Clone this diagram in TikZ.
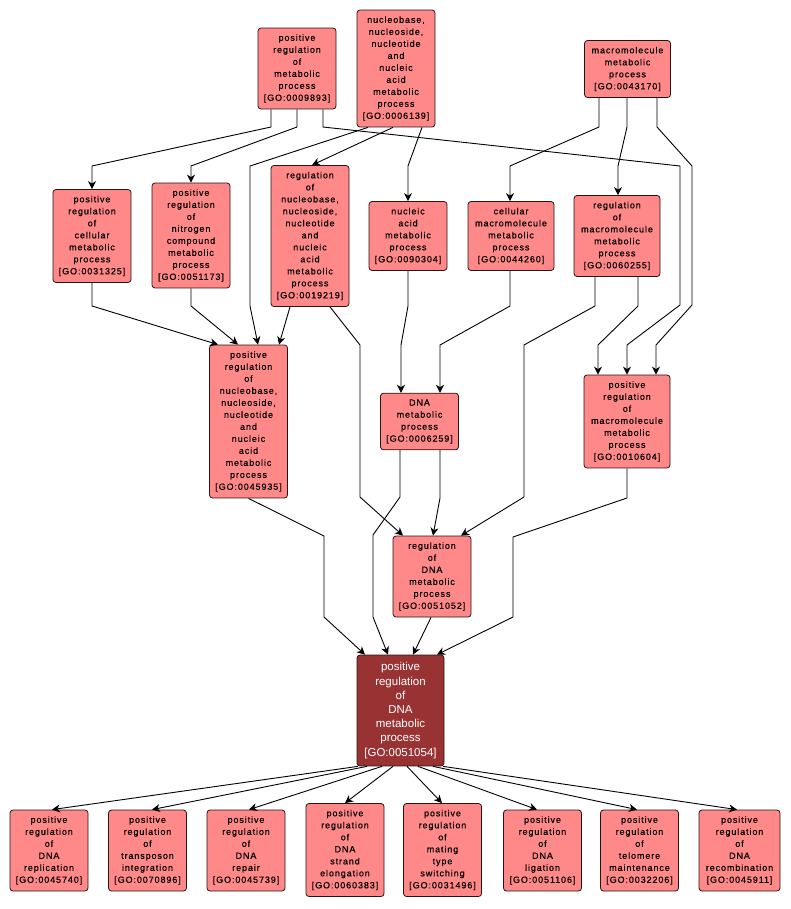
\documentclass[tikz,border=0pt]{standalone}
\usepackage{fontspec}
\usetikzlibrary{arrows.meta}
\newfontfamily\gotermfont[LetterSpace=10,FakeBold=0.4]{Liberation Sans}
\newfontfamily\gokeyfont{Liberation Sans}
\definecolor{goterm}{RGB}{255,136,136}
\definecolor{gokey}{RGB}{153,51,51}
\newcommand\goid[1]{{[GO:#1]}}
\begin{document}
\begin{tikzpicture}[x=1pt,y=1pt,yscale=-1,xscale=1,
    goterm/.style={draw={rgb,255:red,40;green,20;blue,20},line width=0.8pt,fill=goterm,rounded corners=3pt,
      align=center,inner xsep=4pt,inner ysep=6.3pt,minimum width=78pt,
      font=\gotermfont\fontsize{9}{12}\selectfont},
    gokey/.style={goterm,fill=gokey,text=white,inner ysep=7.5pt,minimum width=87pt,
      font=\gokeyfont\fontsize{11.5}{14.2}\selectfont},
    isa/.style={draw=black,line width=0.9pt,-{Stealth[length=8pt,width=8pt,inset=2.5pt]}}]
  %set diagram to 791 x 909
  \path (0,0) rectangle (791,909);

  % Text Node - top row
  \draw (297,68.5) node [goterm] (go9893) {positive\\regulation\\of\\metabolic\\process\\\goid{0009893}};
  \draw (396,68.5) node [goterm] (go6139) {nucleobase,\\nucleoside,\\nucleotide\\and\\nucleic\\acid\\metabolic\\process\\\goid{0006139}};
  \draw (627.5,69) node [goterm,minimum width=86pt] (go43170) {macromolecule\\metabolic\\process\\\goid{0043170}};

  % Text Node - second row
  \draw (92,236) node [goterm] (go31325) {positive\\regulation\\of\\cellular\\metabolic\\process\\\goid{0031325}};
  \draw (191,235.5) node [goterm] (go51173) {positive\\regulation\\of\\nitrogen\\compound\\metabolic\\process\\\goid{0051173}};
  \draw (310,236) node [goterm] (go19219) {regulation\\of\\nucleobase,\\nucleoside,\\nucleotide\\and\\nucleic\\acid\\metabolic\\process\\\goid{0019219}};
  \draw (408,236) node [goterm] (go90304) {nucleic\\acid\\metabolic\\process\\\goid{0090304}};
  \draw (511,236) node [goterm,minimum width=86pt] (go44260) {cellular\\macromolecule\\metabolic\\process\\\goid{0044260}};
  \draw (617,236) node [goterm,minimum width=86pt] (go60255) {regulation\\of\\macromolecule\\metabolic\\process\\\goid{0060255}};

  % Text Node - third row
  \draw (248.5,421.5) node [goterm] (go45935) {positive\\regulation\\of\\nucleobase,\\nucleoside,\\nucleotide\\and\\nucleic\\acid\\metabolic\\process\\\goid{0045935}};
  \draw (419.5,421.5) node [goterm] (go6259) {DNA\\metabolic\\process\\\goid{0006259}};
  \draw (627,421.5) node [goterm,minimum width=86pt] (go10604) {positive\\regulation\\of\\macromolecule\\metabolic\\process\\\goid{0010604}};

  % Text Node
  \draw (432,576.5) node [goterm] (go51052) {regulation\\of\\DNA\\metabolic\\process\\\goid{0051052}};
  \draw (400.5,710.5) node [gokey] (go51054) {positive\\regulation\\of\\DNA\\metabolic\\process\\\goid{0051054}};

  % Text Node - bottom row
  \draw (49,850.5) node [goterm] (go45740) {positive\\regulation\\of\\DNA\\replication\\\goid{0045740}};
  \draw (147.5,850.5) node [goterm] (go70896) {positive\\regulation\\of\\transposon\\integration\\\goid{0070896}};
  \draw (246,850.5) node [goterm] (go45739) {positive\\regulation\\of\\DNA\\repair\\\goid{0045739}};
  \draw (345,850) node [goterm] (go60383) {positive\\regulation\\of\\DNA\\strand\\elongation\\\goid{0060383}};
  \draw (442.5,850) node [goterm] (go31496) {positive\\regulation\\of\\mating\\type\\switching\\\goid{0031496}};
  \draw (542.5,850.5) node [goterm] (go51106) {positive\\regulation\\of\\DNA\\ligation\\\goid{0051106}};
  \draw (639.5,850.5) node [goterm] (go32206) {positive\\regulation\\of\\telomere\\maintenance\\\goid{0032206}};
  \draw (739.5,850.5) node [goterm,minimum width=81pt] (go45911) {positive\\regulation\\of\\DNA\\recombination\\\goid{0045911}};

  % is_a edges from the top row
  \draw [isa] (271,0 |- go9893.south) -- (271,127) -- (92,166) -- (go31325.north);
  \draw [isa] (297,0 |- go9893.south) -- (297,127) -- (191,166) -- (go51173.north);
  \draw [isa] (323,0 |- go9893.south) -- (323,127) -- (680,166) -- (680,305) -- (627,345) -- (go10604.north);
  \draw [isa] (599,0 |- go43170.south) -- (599,127) -- (510,166) -- (510,0 |- go44260.north);
  \draw [isa] (627,0 |- go43170.south) -- (627,127) -- (618,166) -- (618,0 |- go60255.north);
  \draw [isa] (657,0 |- go43170.south) -- (657,127) -- (692,166) -- (692,305) -- (656,345) -- (656,0 |- go10604.north);
  \draw [isa] (368,0 |- go6139.south) -- (250,166) -- (250,306) -- (258,0 |- go45935.north);
  \draw [isa] (393,0 |- go6139.south) -- (312,0 |- go19219.north);
  \draw [isa] (422,0 |- go6139.south) -- (408,166) -- (go90304.north);

  % is_a edges from the second row
  \draw [isa] (go31325.south) -- (92,306) -- (218,0 |- go45935.north);
  \draw [isa] (go51173.south) -- (191,306) -- (238,0 |- go45935.north);
  \draw [isa] (290,0 |- go19219.south) -- (279,0 |- go45935.north);
  \draw [isa] (330,0 |- go19219.south) -- (360,345) -- (360,497) -- (403,0 |- go51052.north);
  \draw [isa] (go90304.south) -- (408,306) -- (401,345) -- (401,0 |- go6259.north);
  \draw [isa] (510,0 |- go44260.south) -- (510,306) -- (440,345) -- (440,0 |- go6259.north);
  \draw [isa] (595,0 |- go60255.south) -- (595,306) -- (524,345) -- (524,497) -- (461,0 |- go51052.north);
  \draw [isa] (638,0 |- go60255.south) -- (638,306) -- (598,345) -- (598,0 |- go10604.north);

  % is_a edges into the key term
  \draw [isa] (go45935.south) -- (324,536) -- (324,617) -- (365,0 |- go51054.north);
  \draw [isa] (400,0 |- go6259.south) -- (400,497) -- (373,535) -- (373,617) -- (388,0 |- go51054.north);
  \draw [isa] (440,0 |- go6259.south) -- (440,498) -- (433,0 |- go51052.north);
  \draw [isa] (go10604.south) -- (627,498) -- (513,537) -- (513,617) -- (437,0 |- go51054.north);
  \draw [isa] (431,0 |- go51052.south) -- (413,0 |- go51054.north);

  % is_a edges to the bottom row
  \draw [isa] (358,0 |- go51054.south) -- (52,0 |- go45740.north);
  \draw [isa] (367,0 |- go51054.south) -- (152,0 |- go70896.north);
  \draw [isa] (382,0 |- go51054.south) -- (249,0 |- go45739.north);
  \draw [isa] (393,0 |- go51054.south) -- (345,0 |- go60383.north);
  \draw [isa] (407,0 |- go51054.south) -- (442,0 |- go31496.north);
  \draw [isa] (418,0 |- go51054.south) -- (537,0 |- go51106.north);
  \draw [isa] (433,0 |- go51054.south) -- (637,0 |- go32206.north);
  \draw [isa] (443,0 |- go51054.south) -- (737,0 |- go45911.north);
\end{tikzpicture}
\end{document}
